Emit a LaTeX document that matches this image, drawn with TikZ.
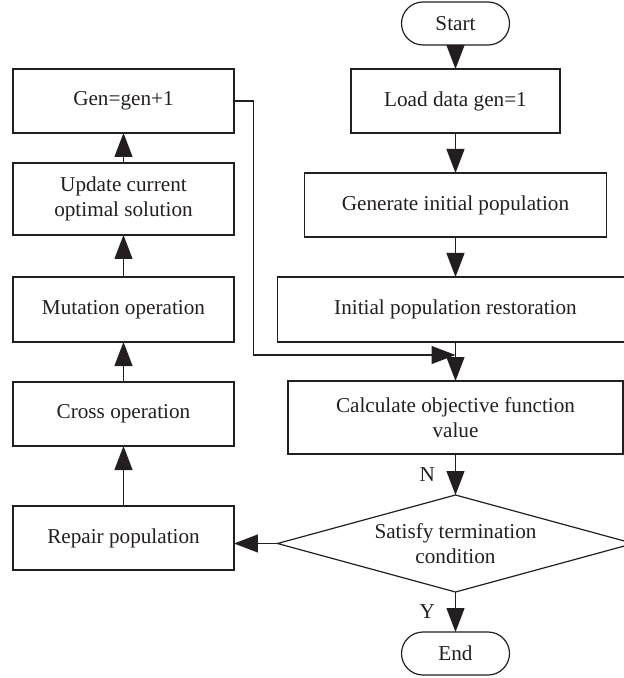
\documentclass[tikz,border=0pt]{standalone}
\usepackage{fontspec}
\setmainfont{Liberation Serif}
\usepackage{tikz}
\usetikzlibrary{arrows.meta,positioning,shapes.geometric}
\definecolor{inkgray}{RGB}{35,31,32}

\begin{document}
\begin{tikzpicture}[
    node distance=20pt and 58.5pt,
    procbox/.style={rectangle, draw=inkgray, line width=0.6pt, minimum height=32pt, align=center, inner sep=2pt, outer sep=0pt, text=inkgray, font=\fontsize{10.6}{12.5}\selectfont},
    termbox/.style={procbox, rounded corners=10.75pt, minimum width=54pt, minimum height=21.5pt},
    decbox/.style={procbox, diamond, aspect=3.67, minimum width=178pt, minimum height=48.5pt, inner sep=0pt},
    yn label/.style={font=\fontsize{10.6}{12.5}\selectfont, text=inkgray, inner sep=0pt, midway, left=10pt},
    arrow/.style={-{Triangle[length=12pt, width=9pt]}, draw=inkgray, line width=0.6pt},
]
    \useasboundingbox (-227.75pt,11.75pt) rectangle (84.25pt,-327.25pt);

    % Main column
    \node[termbox] (start) at (0,0) {Start};
    \node[procbox, minimum width=104.5pt, below=12pt of start] (load) {Load data gen=1};
    \node[procbox, minimum width=151pt, below=of load] (geninit) {Generate initial population};
    \node[procbox, minimum width=178pt, minimum height=32.5pt, below=of geninit] (restore) {Initial population restoration};
    \node[procbox, minimum width=167.5pt, minimum height=36.5pt, below=19.5pt of restore] (calc) {Calculate objective function\\value};
    \node[decbox, below=20.5pt of calc] (dia) {Satisfy termination\\condition};
    \node[termbox, below=of dia] (end) {End};

    % Loop column
    \node[procbox, minimum width=110.5pt, left=of load] (genp1) {Gen=gen+1};
    \node[procbox, minimum width=110.5pt, minimum height=36pt, below=15pt of genp1] (update) {Update current\\optimal solution};
    \node[procbox, minimum width=110.5pt, minimum height=32.5pt, below=21pt of update] (mutation) {Mutation operation};
    \node[procbox, minimum width=110.5pt, below=of mutation] (cross) {Cross operation};
    \node[procbox, minimum width=110.5pt, below=30pt of cross] (repair) {Repair population};

    % Main flow
    \draw[arrow] (start) -- (load);
    \draw[arrow] (load) -- (geninit);
    \draw[arrow] (geninit) -- (restore);
    \draw[arrow] (restore) -- (calc);
    \draw[arrow] (calc) -- node[yn label] {N} (dia);
    \draw[arrow] (dia) -- node[yn label] {Y} (end);

    % Loop back
    \draw[arrow] (dia.west) -- (dia.west -| repair.east);
    \draw[arrow] (repair) -- (cross);
    \draw[arrow] (cross) -- (mutation);
    \draw[arrow] (mutation) -- (update);
    \draw[arrow] (update) -- (genp1);
    \coordinate (fb) at ([yshift=-6.5pt]restore.south);
    \draw[arrow] (genp1.east) -- ++(9.75pt,0) |- (fb);
\end{tikzpicture}
\end{document}
